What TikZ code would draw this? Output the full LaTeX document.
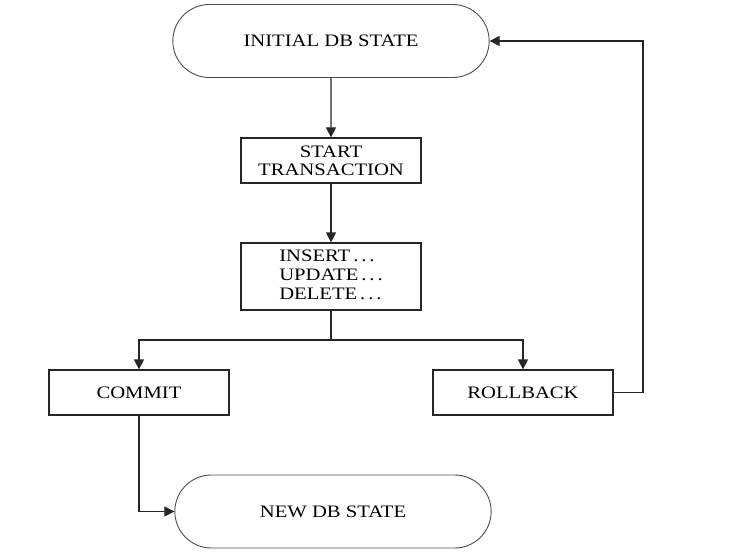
\documentclass[tikz,border=0pt]{standalone}
\usepackage{fontspec}
\setmainfont{Liberation Serif}[FakeStretch=1.18]
\usetikzlibrary{arrows.meta,shapes.misc}
\begin{document}
\begin{tikzpicture}[x=1pt,y=-1pt,
  lbl/.style={font=\fontsize{17.5}{18}\selectfont},
  stadium/.style={lbl,draw=black!70,line width=0.9pt,rounded rectangle,minimum width=323pt,minimum height=73pt},
  stepbox/.style={lbl,draw=black!85,line width=1.2pt,minimum width=180pt,align=center,inner sep=2pt},
  conn/.style={line width=1.2pt,draw=black!85,-{Triangle[length=10pt,width=10pt]}}]
\useasboundingbox (0,0) rectangle (736,556);
\node[stadium] (init) at (331,41) {INITIAL DB STATE};
\node[stepbox,minimum height=45pt] (start) at (331,160.5) {START\\TRANSACTION};
\node[stepbox,minimum height=67pt] (ops) at (331,276.5) {\begin{tabular}{@{}l@{}}INSERT\,.\,.\,.\\[1pt]UPDATE\,.\,.\,.\\[1pt]DELETE\,.\,.\,.\end{tabular}};
\node[stepbox,minimum height=45pt] (commit) at (139,392.5) {COMMIT};
\node[stepbox,minimum height=45pt] (rollback) at (523,392.5) {ROLLBACK};
\node[stadium] (new) at (333,511.5) {NEW DB STATE};
\coordinate (split) at (331,340);
\coordinate (right) at (643,392.5);
\draw[conn] (init) -- (start);
\draw[conn] (start) -- (ops);
\draw[line width=1.2pt,draw=black!85] (ops) -- (split);
\draw[conn] (split) -| (commit);
\draw[conn] (split) -| (rollback);
\draw[conn] (commit.south) |- (new.west);
\draw[conn] (rollback.east) -- (right) |- (init.east);
\end{tikzpicture}
\end{document}
